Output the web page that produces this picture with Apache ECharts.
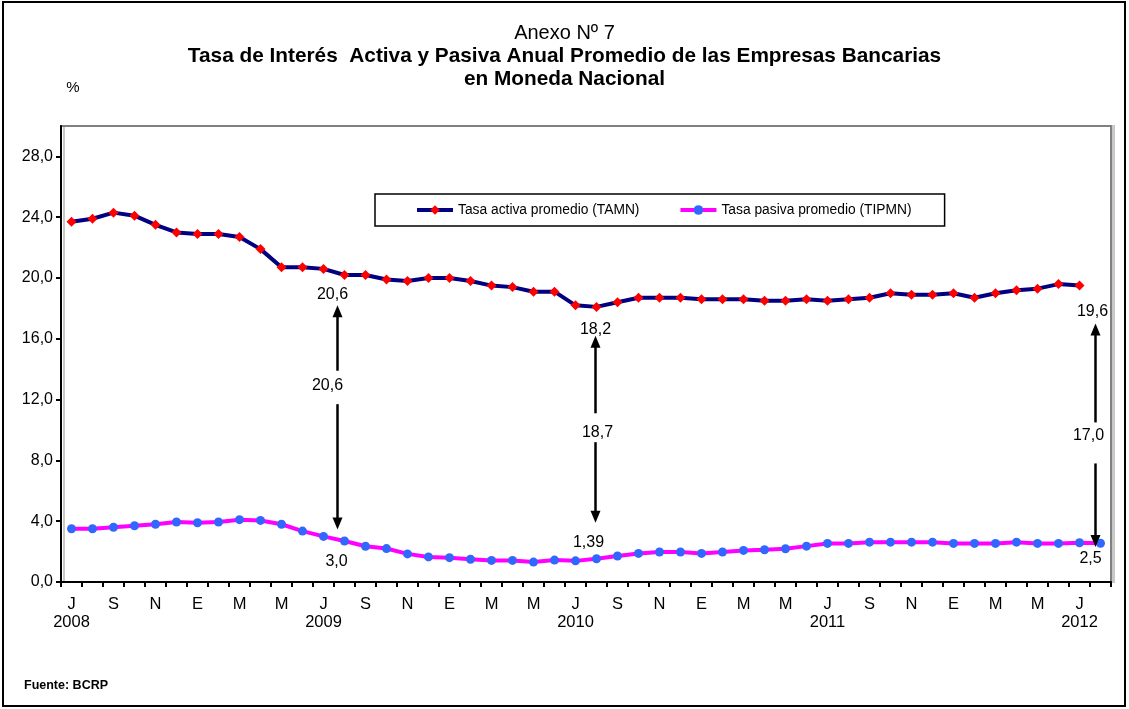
<!DOCTYPE html>
<html><head><meta charset="utf-8">
<script src="https://cdn.jsdelivr.net/npm/echarts@6/dist/echarts.min.js"></script>
<style>html,body{margin:0;padding:0;background:#fff}#c{width:1129px;height:709px}</style>
</head><body><div id="c"></div>
<script>
// ---- data ----
const categories = [
  'Jul08','Ago08','Set08','Oct08','Nov08','Dic08',
  'Ene09','Feb09','Mar09','Abr09','May09','Jun09','Jul09','Ago09','Set09','Oct09','Nov09','Dic09',
  'Ene10','Feb10','Mar10','Abr10','May10','Jun10','Jul10','Ago10','Set10','Oct10','Nov10','Dic10',
  'Ene11','Feb11','Mar11','Abr11','May11','Jun11','Jul11','Ago11','Set11','Oct11','Nov11','Dic11',
  'Ene12','Feb12','Mar12','Abr12','May12','Jun12','Jul12','Ago12'
];
const monthInitials = {Ene:'E',Feb:'F',Mar:'M',Abr:'A',May:'M',Jun:'J',Jul:'J',Ago:'A',Set:'S',Oct:'O',Nov:'N',Dic:'D'};
const seriesNames = ['Tasa activa promedio (TAMN)', 'Tasa pasiva promedio (TIPMN)'];
const tamn = [
  23.7, 23.9, 24.3, 24.1, 23.5, 23.0,
  22.9, 22.9, 22.7, 21.9, 20.7, 20.7, 20.6, 20.2, 20.2, 19.9, 19.8, 20.0,
  20.0, 19.8, 19.5, 19.4, 19.1, 19.1, 18.2, 18.1, 18.4, 18.7, 18.7, 18.7,
  18.6, 18.6, 18.6, 18.5, 18.5, 18.6, 18.5, 18.6, 18.7, 19.0, 18.9, 18.9,
  19.0, 18.7, 19.0, 19.2, 19.3, 19.6, 19.5, null
];
const tipmn = [
  3.5, 3.5, 3.6, 3.7, 3.8, 3.95,
  3.9, 3.95, 4.1, 4.05, 3.8, 3.35, 3.0, 2.7, 2.35, 2.2, 1.85, 1.65,
  1.6, 1.5, 1.42, 1.42, 1.31, 1.44, 1.39, 1.53, 1.71, 1.88, 1.97, 1.97,
  1.88, 1.97, 2.08, 2.12, 2.19, 2.36, 2.54, 2.54, 2.62, 2.62, 2.62, 2.62,
  2.54, 2.54, 2.54, 2.62, 2.54, 2.54, 2.58, 2.55
];
const yTicks = [0, 4, 8, 12, 16, 20, 24, 28];
// annotations (spread arrows): category and values
const arrowCats = ['Ago09', 'Ago10', 'Ago12'];
const arrowTop = [18.2, 16.2, 17.0];
const arrowBottom = [3.46, 3.9, 2.3];
const gapTop = [13.9, 11.1, 10.5];
const gapBottom = [11.7, 9.2, 7.8];
const diffLabels = ['20,6', '18,7', '17,0'];
const diffLabelY = [12.9, 9.8, 9.6];
const topLabels = ['20,6', '18,2', '19,6'];
const topLabelY = [18.9, 16.6, 17.8];
const bottomLabels = ['3,0', '1,39', '2,5'];
const bottomLabelY = [1.35, 2.6, 1.55];

// ---- chart ----
const FONT = '"Liberation Sans", Arial, sans-serif';
const chart = echarts.init(document.getElementById('c'), null, {renderer: 'canvas'});
const option = {
  backgroundColor: '#fff',
  animation: false,
  textStyle: {fontFamily: FONT},
  title: {
    left: 'center', top: 17,
    text: '{a|Anexo Nº 7}\n{b|Tasa de Interés  Activa y Pasiva Anual Promedio de las Empresas Bancarias}\n{b|en Moneda Nacional}',
    textStyle: {
      fontFamily: FONT,
      rich: {
        a: {fontSize: 20, fontWeight: 'normal', color: '#000', lineHeight: 23, fontFamily: FONT},
        b: {fontSize: 20.8, fontWeight: 'bold', color: '#000', lineHeight: 23, fontFamily: FONT}
      }
    }
  },
  legend: {
    left: 375, top: 194,
    padding: [9, 33, 9, 40],
    itemGap: 39, itemWidth: 36, itemHeight: 12,
    borderColor: '#000', borderWidth: 1.5,
    lineStyle: {width: 4},
    textStyle: {fontSize: 13.8, color: '#000', fontFamily: FONT},
    data: seriesNames
  },
  grid: {
    left: 61, right: 18, top: 126, bottom: 127,
    show: true, backgroundColor: '#fff', borderColor: '#808080', borderWidth: 2,
    shadowColor: '#c8c8c8', shadowBlur: 0, shadowOffsetX: 3, shadowOffsetY: 0
  },
  xAxis: {
    type: 'category', data: categories, boundaryGap: true,
    axisLine: {lineStyle: {color: '#000', width: 2}},
    axisTick: {show: true, interval: 0, alignWithLabel: false, length: 5, lineStyle: {color: '#000', width: 2}},
    axisLabel: {
      interval: 1, color: '#000', fontSize: 16.5, margin: 13, lineHeight: 18, fontFamily: FONT,
      formatter: function (v) {
        const m = v.slice(0, 3), y = v.slice(3);
        return m === 'Jul' ? monthInitials[m] + '\n20' + y : monthInitials[m];
      }
    },
    splitLine: {show: false}
  },
  yAxis: {
    type: 'value', min: 0, max: 30,
    axisLine: {show: true, lineStyle: {color: '#000', width: 2}},
    axisTick: {show: true, inside: false, length: 5, customValues: yTicks, lineStyle: {color: '#000', width: 2}},
    axisLabel: {
      color: '#000', fontSize: 16, margin: 8, fontFamily: FONT, customValues: yTicks,
      formatter: function (v) { return v.toFixed(1).replace('.', ','); }
    },
    splitLine: {show: false}
  },
  series: [
    {
      name: seriesNames[0], type: 'line', data: tamn,
      lineStyle: {color: '#000080', width: 4},
      itemStyle: {color: '#ff0000', borderWidth: 0},
      symbol: 'diamond', symbolSize: 10, showAllSymbol: true, z: 3
    },
    {
      name: seriesNames[1], type: 'line', data: tipmn,
      lineStyle: {color: '#ff00ff', width: 4},
      itemStyle: {color: '#3366ff', borderWidth: 0},
      symbol: 'circle', symbolSize: 9, showAllSymbol: true, z: 3
    }
  ]
};
chart.setOption(option);

// ---- annotations, placed through the chart's own scales ----
function px(c, v) { return chart.convertToPixel({xAxisIndex: 0, yAxisIndex: 0}, [c, v]); }
const arrowDx = [-7, -1, -5];
const topDx = [-5, 0, -3], midDx = [-10, 2, -7], botDx = [-1, -7, -5];
function txt(x, y, s, extra) {
  return {type: 'text', x: x, y: y, z: 50,
    style: Object.assign({text: s, fill: '#000', fontSize: 16, fontFamily: FONT, align: 'center', verticalAlign: 'middle'}, extra || {})};
}
const g = [];
g.push({type: 'rect', shape: {x: 3, y: 2, width: 1122, height: 704}, style: {fill: null, stroke: '#000', lineWidth: 2}, z: 100});
g.push(txt(73, 88, '%', {fontSize: 15}));
g.push(txt(24, 686, 'Fuente: BCRP', {fontSize: 12.5, fontWeight: 'bold', align: 'left'}));
for (let i = 0; i < arrowCats.length; i++) {
  const x = px(arrowCats[i], 0)[0] + arrowDx[i];
  const yT = px(arrowCats[i], arrowTop[i])[1];
  const yGT = px(arrowCats[i], gapTop[i])[1];
  const yGB = px(arrowCats[i], gapBottom[i])[1];
  const yB = px(arrowCats[i], arrowBottom[i])[1];
  g.push({type: 'line', shape: {x1: x, y1: yGT, x2: x, y2: yT + 10}, style: {stroke: '#000', lineWidth: 2.5}, z: 50});
  g.push({type: 'polygon', shape: {points: [[x, yT], [x - 5, yT + 12], [x + 5, yT + 12]]}, style: {fill: '#000'}, z: 50});
  g.push({type: 'line', shape: {x1: x, y1: yGB, x2: x, y2: yB - 10}, style: {stroke: '#000', lineWidth: 2.5}, z: 50});
  g.push({type: 'polygon', shape: {points: [[x, yB], [x - 5, yB - 12], [x + 5, yB - 12]]}, style: {fill: '#000'}, z: 50});
  g.push(txt(x + midDx[i], px(arrowCats[i], diffLabelY[i])[1], diffLabels[i]));
  g.push(txt(x + topDx[i], px(arrowCats[i], topLabelY[i])[1], topLabels[i]));
  g.push(txt(x + botDx[i], px(arrowCats[i], bottomLabelY[i])[1], bottomLabels[i]));
}
chart.setOption({graphic: g});
</script>
</body></html>
